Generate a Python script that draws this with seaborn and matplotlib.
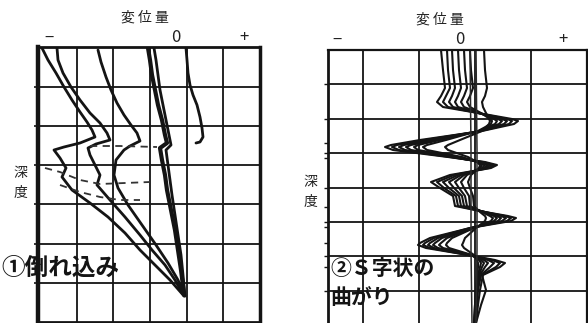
import matplotlib
matplotlib.use("Agg")
import matplotlib.pyplot as plt
import matplotlib.transforms as mtransforms
import pandas as pd
import seaborn as sns

# ---------------- data: panel ① 倒れ込み (displacement, depth) ----------------
L_t1_disp = [-134, -128, -120, -112, -104, -96, -89, -84, -81, -96, -112, -122, -116, -110,
             -114, -104, -86, -68, -51, -36, -20, -6, 8]
L_t1_depth = [1, 13, 26, 40, 53, 65, 75, 83, 90, 96, 100, 103, 111, 121,
              130, 143, 156, 170, 186, 203, 219, 233, 249]
L_t2_disp = [-119, -118, -113, -105, -96, -86, -76, -69, -66, -80, -88, -86, -81, -76,
             -79, -66, -51, -36, -24, -11, -1, 8]
L_t2_depth = [1, 13, 26, 40, 53, 66, 76, 86, 93, 97, 101, 108, 118, 128,
              138, 153, 170, 188, 203, 218, 233, 249]
L_t3_disp = [-78, -75, -70, -65, -59, -52, -45, -39, -36, -46, -52, -60, -62, -58,
             -48, -34, -20, -8, 2, 9]
L_t3_depth = [3, 15, 30, 43, 56, 68, 78, 86, 94, 99, 103, 113, 128, 141,
              158, 178, 198, 216, 233, 249]
L_t4a_disp = [-28, -26, -24, -21, -18, -14, -11, -9, -16, -14, -11, -9, -5, -1, 2, 5, 8]
L_t4a_depth = [1, 13, 28, 43, 58, 73, 88, 96, 101, 113, 128, 143, 163, 183, 203, 223, 247]
L_t4b_disp = [-22, -20, -18, -16, -13, -10, -7, -5, -10, -8, -6, -4, -1, 2, 5, 7, 9]
L_t4b_depth = [1, 13, 28, 43, 58, 73, 88, 98, 103, 118, 133, 148, 168, 188, 208, 228, 249]
L_t5_disp = [10, 11, 12, 14, 17, 21, 24, 26, 27, 24, 20]
L_t5_depth = [1, 13, 26, 38, 48, 58, 70, 81, 90, 95, 96]
L_d1_disp = [-86, -56, -19]
L_d1_depth = [99, 99, 100]
L_d2_disp = [-131, -116, -96, -76, -51, -26]
L_d2_depth = [121, 125, 133, 137, 136, 135]
L_d3_disp = [-116, -96, -76, -56, -36]
L_d3_depth = [138, 145, 150, 153, 153]

# ---------------- data: panel ② S字状の曲がり ----------------
R_depth = [0, 20, 38, 46, 52, 57, 63, 69, 71, 74, 81, 90, 95, 97, 100, 107, 112, 115, 118,
           125, 132, 138, 146, 156, 162, 166, 168, 171, 178, 188, 193, 195, 198, 205, 210,
           213, 217, 225, 240, 255, 273]
R_t0 = [-19, -17, -15, -19, -23, -17, 18, 52, 58, 54, 22, -40, -69, -75, -67, -12, 25, 37, 31,
        -10, -29, -20, -7, -5, 25, 48, 56, 51, 10, -30, -40, -42, -34, 8, 35,
        45, 40, 23, 20, 18, 16]
R_t1 = [-13, -12, -10, -14, -17, -12, 18, 47, 52, 49, 21, -35, -63, -68, -61, -10, 23, 34, 29,
        -6, -23, -16, -4, -2, 25, 45, 51, 47, 10, -26, -35, -37, -30, 8, 32,
        40, 36, 22, 26, 21, 16]
R_t2 = [-8, -7, -5, -8, -11, -7, 18, 42, 47, 44, 20, -30, -56, -61, -55, -8, 21, 31, 26,
        -2, -17, -11, -1, 1, 25, 41, 46, 42, 11, -22, -30, -32, -26, 9, 28,
        34, 30, 21, 18, 17, 15]
R_t3 = [-2, -1, 1, -2, -5, -2, 19, 38, 42, 39, 19, -25, -49, -54, -49, -5, 19, 28, 24,
        1, -11, -6, 2, 4, 24, 37, 41, 38, 12, -18, -25, -27, -22, 10, 24,
        28, 25, 20, 17, 16, 15]
R_t4 = [4, 5, 7, 4, 1, 4, 20, 34, 37, 35, 19, -20, -42, -46, -42, -2, 18, 25, 22,
        4, -5, -1, 5, 7, 23, 34, 37, 34, 13, -13, -19, -21, -17, 11, 21,
        24, 22, 19, 17, 16, 14]
R_t5 = [10, 11, 13, 10, 7, 10, 21, 30, 32, 31, 18, -14, -33, -37, -33, 2, 17, 22, 20,
        7, 1, 4, 9, 10, 22, 30, 33, 31, 14, -8, -13, -14, -11, 12, 19,
        21, 20, 18, 16, 15, 14]
R_t6 = [24, 25, 27, 25, 22, 23, 26, 29, 30, 29, 22, 0, -12, -15, -12, 8, 17, 20, 19,
        11, 8, 10, 13, 14, 20, 25, 26, 25, 16, 5, 3, 2, 4, 14, 17,
        18, 18, 17, 16, 15, 14]
R_v_depth = [0, 100, 200, 273]
R_v1 = [10, 11, 11, 12]
R_v2 = [16, 17, 17, 16]

# grid / label positions (same units)
L_grid_x = [-99, -63, -26, 11, 47]
L_grid_y = [39.5, 79, 118, 157, 196.5, 236]
R_grid_x = [-97, -41, 15, 71]
R_grid_y = [34.4, 68.8, 103.2, 137.6, 172, 206.4, 240.8]
R_minor_y = [93, 108, 157, 177, 193, 217]
L_tick_text = ["−", "0", "+"]
L_tick_pos = [-127, 0, 68]
R_tick_pos = [-123, 0, 103]

sns.set_theme(style="white")
plt.rcParams["font.family"] = ["Noto Sans CJK JP", "DejaVu Sans"]

W, H = 588, 323
fig = plt.figure(figsize=(W / 100, H / 100), dpi=100)

axL = fig.add_axes([38 / W, 1 / H, 222 / W, 275 / H])
axR = fig.add_axes([328 / W, 0 / H, 259 / W, 273 / H])

ink = "#141414"

def long_df(pairs):
    rows = []
    for name, xs, ys in pairs:
        for i, (x, y) in enumerate(zip(xs, ys)):
            rows.append({"trace": name, "order": i, "disp": x, "depth": y})
    return pd.DataFrame(rows)

# ---- left panel ----
solid_L = long_df([("t1", L_t1_disp, L_t1_depth), ("t2", L_t2_disp, L_t2_depth),
                   ("t3", L_t3_disp, L_t3_depth), ("t4b", L_t4b_disp, L_t4b_depth),
                   ("t5", L_t5_disp, L_t5_depth)])
sns.lineplot(data=solid_L, x="disp", y="depth", units="trace", estimator=None, sort=False,
             color=ink, lw=2.0, ax=axL, legend=False)
thick_L = long_df([("t4a", L_t4a_disp, L_t4a_depth)])
sns.lineplot(data=thick_L, x="disp", y="depth", units="trace", estimator=None, sort=False,
             color=ink, lw=3.0, ax=axL, legend=False)
dash_L = long_df([("d1", L_d1_disp, L_d1_depth), ("d2", L_d2_disp, L_d2_depth),
                  ("d3", L_d3_disp, L_d3_depth)])
sns.lineplot(data=dash_L, x="disp", y="depth", units="trace", estimator=None, sort=False,
             color="#333333", lw=1.3, ax=axL, legend=False, linestyle=(0, (4, 3)))

axL.set_xlim(-138, 84)
axL.set_ylim(275, 0)
axL.set_xticks(L_grid_x)
axL.set_yticks(L_grid_y)
axL.set_xticklabels([])
axL.set_yticklabels([])
axL.tick_params(axis="x", length=0)
axL.tick_params(axis="y", left=True, length=3, width=1.2, color=ink, direction="out")
axL.grid(True, color=ink, lw=1.3)
axL.set_axisbelow(True)
for side, lw in (("left", 3.2), ("right", 2.5), ("top", 2.0), ("bottom", 2.0)):
    axL.spines[side].set_visible(True)
    axL.spines[side].set_color(ink)
    axL.spines[side].set_linewidth(lw)
axL.set_xlabel("")
axL.set_ylabel("")

# ---- right panel ----
bundle = long_df([(f"t{i}", xs, R_depth) for i, xs in
                  enumerate([R_t0, R_t1, R_t2, R_t3, R_t4, R_t5, R_t6])])
sns.lineplot(data=bundle, x="disp", y="depth", units="trace", estimator=None, sort=False,
             color=ink, lw=1.5, ax=axR, legend=False)
for ln in axR.get_lines():
    ln.set_solid_joinstyle("round")
verts = long_df([("v1", R_v1, R_v_depth), ("v2", R_v2, R_v_depth)])
sns.lineplot(data=verts, x="disp", y="depth", units="trace", estimator=None, sort=False,
             color="#2a2a2a", lw=1.1, ax=axR, legend=False)

axR.set_xlim(-132, 127)
axR.set_ylim(273, 0)
axR.set_xticks(R_grid_x)
axR.set_yticks(R_grid_y)
axR.set_yticks(R_minor_y, minor=True)
axR.set_xticklabels([])
axR.set_yticklabels([])
axR.tick_params(axis="x", length=0)
axR.tick_params(axis="y", which="both", left=True, length=3, width=1.0, color=ink, direction="out")
axR.grid(True, which="major", color=ink, lw=1.3)
axR.set_axisbelow(True)
for side, lw in (("left", 2.0), ("right", 1.6), ("top", 1.6)):
    axR.spines[side].set_visible(True)
    axR.spines[side].set_color(ink)
    axR.spines[side].set_linewidth(lw)
axR.spines["bottom"].set_visible(False)
axR.set_xlabel("")
axR.set_ylabel("")

# ---- labels ----
txt = "#222222"
transL = mtransforms.blended_transform_factory(axL.transData, axL.transAxes)
transR = mtransforms.blended_transform_factory(axR.transData, axR.transAxes)
for lab, xp in zip(L_tick_text, L_tick_pos):
    axL.text(xp, 1 + 9 / 275, lab, transform=transL, ha="center", va="center",
             fontsize=12, color=txt, clip_on=False)
for lab, xp in zip(L_tick_text, R_tick_pos):
    axR.text(xp, 1 + 10 / 273, lab, transform=transR, ha="center", va="center",
             fontsize=12, color=txt, clip_on=False)

fig.text(145 / W, 1 - 18 / H, "変 位 量", ha="center", va="center", fontsize=10, color=txt)
fig.text(440 / W, 1 - 20 / H, "変 位 量", ha="center", va="center", fontsize=10, color=txt)
for ch, yy in (("深", 173), ("度", 193)):
    fig.text(20 / W, 1 - yy / H, ch, ha="center", va="center", fontsize=10, color=txt)
for ch, yy in (("深", 182), ("度", 202)):
    fig.text(310 / W, 1 - yy / H, ch, ha="center", va="center", fontsize=10, color=txt)

fig.text(1 / W, 1 - 268 / H, "①倒れ込み", ha="left", va="center", fontsize=17,
         fontweight="bold", color=ink)
fig.text(330 / W, 1 - 268 / H, "②Ｓ字状の", ha="left", va="center", fontsize=15,
         fontweight="bold", color=ink)
fig.text(330 / W, 1 - 297 / H, "曲がり", ha="left", va="center", fontsize=15,
         fontweight="bold", color=ink)

fig.savefig("out.png", dpi=100, facecolor="white")
